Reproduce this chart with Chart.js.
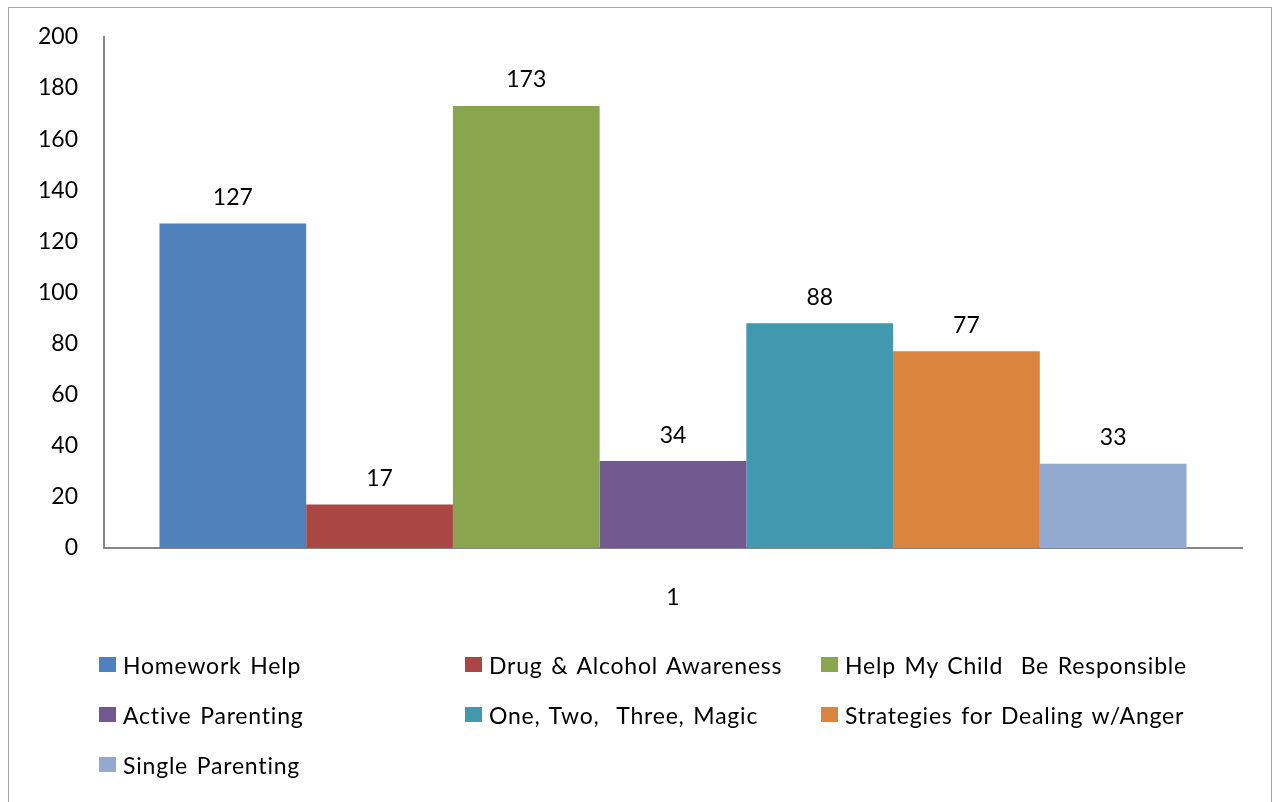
<!DOCTYPE html>
<html>
<head>
<meta charset="utf-8">
<script src="https://cdn.jsdelivr.net/npm/chart.js@4.4.1/dist/chart.umd.min.js"></script>
<style>
  html, body { margin: 0; padding: 0; background: #fff; }
  body { width: 1272px; height: 802px; position: relative; overflow: hidden; font-family: Lato, "Open Sans", sans-serif; }
  #frame { position: absolute; left: 8px; top: 7px; width: 1264px; height: 820px; border: 1px solid #a6a6a6; box-sizing: border-box; }
  #wrap { position: absolute; left: 0; top: 0; width: 1272px; height: 802px; }
  #legend { position: absolute; left: 0; top: 0; width: 1272px; height: 802px; pointer-events: none; }
  .sw { position: absolute; width: 17px; height: 15px; }
  .tx { position: absolute; white-space: pre; font-size: 23px; line-height: 1; color: #000; letter-spacing: 0.8px; word-spacing: 2px; }
</style>
</head>
<body>
<div id="frame"></div>
<div id="wrap"><canvas id="c" width="1272" height="802"></canvas></div>
<div id="legend"></div>
<script>
const categories = ["1"];
const seriesNames = ["Homework Help", "Drug & Alcohol Awareness", "Help My Child  Be Responsible", "Active Parenting", "One, Two,  Three, Magic", "Strategies for Dealing w/Anger", "Single Parenting"];
const seriesValues = [127, 17, 173, 34, 88, 77, 33];
const seriesColors = ["#4F81BD", "#AA4643", "#89A54E", "#71588F", "#4198AF", "#DB843D", "#93A9CF"];
const yTicks = [0, 20, 40, 60, 80, 100, 120, 140, 160, 180, 200];

const FONT = "Lato, 'Open Sans', sans-serif";

const datasets = seriesNames.map((n, i) => ({
  label: n,
  data: [seriesValues[i]],
  backgroundColor: seriesColors[i],
  borderWidth: 0,
  categoryPercentage: 0.9025,
  barPercentage: 1.0
}));

const valueLabels = {
  id: 'valueLabels',
  afterDatasetsDraw(chart) {
    const ctx = chart.ctx;
    ctx.save();
    ctx.font = "23px " + FONT;
    ctx.fillStyle = "#000";
    ctx.textAlign = "center";
    ctx.textBaseline = "middle";
    chart.data.datasets.forEach((ds, i) => {
      const meta = chart.getDatasetMeta(i);
      meta.data.forEach((bar, j) => {
        ctx.fillText(String(ds.data[j]), bar.x, bar.y - 26);
      });
    });
    ctx.restore();
  }
};

new Chart(document.getElementById('c'), {
  type: 'bar',
  data: { labels: categories, datasets },
  plugins: [valueLabels],
  options: {
    responsive: false,
    animation: false,
    devicePixelRatio: 1,
    layout: { padding: { left: 0, top: 20, right: 30, bottom: 0 } },
    plugins: { legend: { display: false }, tooltip: { enabled: false } },
    scales: {
      x: {
        grid: { display: false, drawTicks: false },
        border: { display: true, color: '#868686', width: 2 },
        ticks: { color: '#000', font: { family: FONT, size: 23 }, padding: 36 },
        afterFit(scale) { scale.height = 254; }
      },
      y: {
        min: 0, max: 200,
        afterBuildTicks(scale) { scale.ticks = yTicks.map(v => ({ value: v })); },
        grid: { display: false, drawTicks: false },
        border: { display: true, color: '#868686', width: 2 },
        ticks: { color: '#000', font: { family: FONT, size: 23, lineHeight: 0.95 }, padding: 26 },
        afterFit(scale) { scale.width = 104; }
      }
    }
  }
});

// HTML legend in 3 columns
const legend = document.getElementById('legend');
const colX = [99, 465, 821];
const rowY = [657, 707, 757];
seriesNames.forEach((n, i) => {
  const col = i % 3, row = Math.floor(i / 3);
  const sw = document.createElement('div');
  sw.className = 'sw';
  sw.style.left = colX[col] + 'px';
  sw.style.top = rowY[row] + 'px';
  sw.style.background = seriesColors[i];
  legend.appendChild(sw);
  const tx = document.createElement('div');
  tx.className = 'tx';
  tx.style.left = (colX[col] + 24) + 'px';
  tx.style.top = (rowY[row] - 3) + 'px';
  tx.textContent = n;
  legend.appendChild(tx);
});
</script>
</body>
</html>
